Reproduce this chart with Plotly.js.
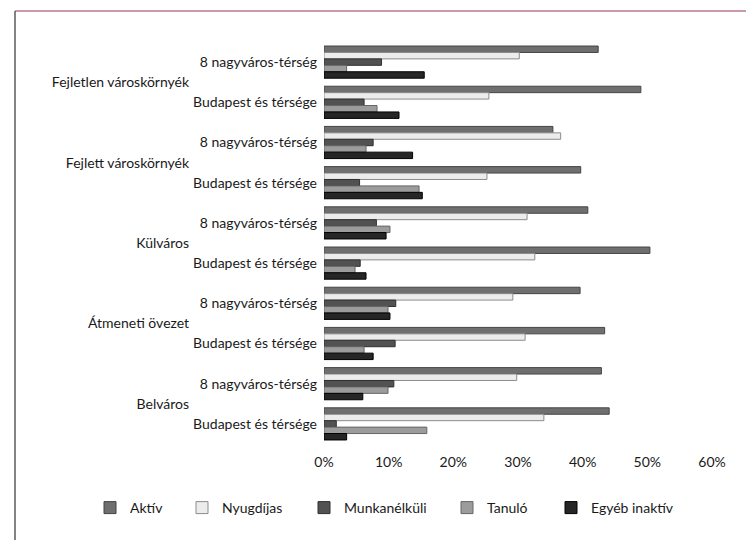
<!DOCTYPE html>
<html>
<head>
<meta charset="utf-8">
<script src="https://cdn.plot.ly/plotly-3.0.1.min.js"></script>
<style>html,body{margin:0;padding:0;background:#fff;}#chart{width:746px;height:540px;}</style>
</head>
<body>
<div id="chart"></div>
<script>
// Outer and inner category labels (top to bottom)
const outerCats = [
  'Fejletlen városkörnyék','Fejletlen városkörnyék',
  'Fejlett városkörnyék','Fejlett városkörnyék',
  'Külváros','Külváros',
  'Átmeneti övezet','Átmeneti övezet',
  'Belváros','Belváros'
];
const innerCats = [
  '8 nagyváros-térség','Budapest és térsége',
  '8 nagyváros-térség','Budapest és térsége',
  '8 nagyváros-térség','Budapest és térsége',
  '8 nagyváros-térség','Budapest és térsége',
  '8 nagyváros-térség','Budapest és térsége'
];
const seriesNames = ['Aktív','Nyugdíjas','Munkanélküli','Tanuló','Egyéb inaktív'];
const aktiv        = [42.4, 49.0, 35.4, 39.7, 40.8, 50.4, 39.6, 43.4, 42.9, 44.1];
const nyugdijas    = [30.2, 25.5, 36.6, 25.2, 31.4, 32.6, 29.2, 31.1, 29.8, 34.0];
const munkanelkuli = [ 8.9,  6.2,  7.6,  5.5,  8.1,  5.6, 11.1, 11.0, 10.8,  1.9];
const tanulo       = [ 3.5,  8.2,  6.5, 14.7, 10.2,  4.8,  9.9,  6.2,  9.9, 15.9];
const egyeb        = [15.5, 11.6, 13.7, 15.2,  9.6,  6.5, 10.2,  7.6,  6.0,  3.5];
const xTicks = [0, 10, 20, 30, 40, 50, 60];

const values = [aktiv, nyugdijas, munkanelkuli, tanulo, egyeb];
const fills = ['#6f6f6f', '#ececec', '#525252', '#9c9c9c', '#262626'];
const lines = ['#454545', '#8c8c8c', '#303030', '#666666', '#000000'];
const legendIds = ['legend', 'legend2', 'legend3', 'legend4', 'legend5'];
const legendLeft = [90, 182, 304, 447, 551]; // pixel left edge of each legend entry

const traces = values.map((v, i) => ({
  type: 'bar',
  orientation: 'h',
  name: seriesNames[i],
  legend: legendIds[i],
  x: v,
  y: [outerCats, innerCats],
  marker: {color: fills[i], line: {color: lines[i], width: 1}},
  hoverinfo: 'x+name'
}));

// plot area pixel geometry
const L = 324, R = 712, T = 42, B = 444;
const W = R - L, H = B - T;
const px = x => (x - L) / W;
const py = y => (B - y) / H;

const layout = {
  width: 746, height: 540,
  margin: {l: L, r: 746 - R, t: T, b: 540 - B, autoexpand: false},
  paper_bgcolor: '#ffffff',
  plot_bgcolor: '#ffffff',
  font: {family: 'Lato, "Open Sans", sans-serif', size: 14, color: '#1a1a1a'},
  barmode: 'group',
  bargap: 0.2,
  bargroupgap: 0,
  showlegend: true,
  xaxis: {
    range: [0, 60],
    tickvals: xTicks,
    ticktext: xTicks.map(t => t + '%'),
    showgrid: false,
    zeroline: false,
    showline: false,
    ticks: '',
    ticklabelstandoff: 8,
    tickfont: {size: 14}
  },
  yaxis: {
    type: 'multicategory',
    autorange: 'reversed',
    showdividers: false,
    showgrid: false,
    showline: false,
    ticks: '',
    ticklabelstandoff: 6,
    tickfont: {size: 14}
  },
  shapes: [
    {type: 'line', xref: 'paper', yref: 'paper', x0: px(15), x1: px(746), y0: py(11), y1: py(11),
     line: {color: '#b8788e', width: 1.5}},
    {type: 'line', xref: 'paper', yref: 'paper', x0: px(15), x1: px(15), y0: py(11), y1: py(540),
     line: {color: '#5a5a5a', width: 1.5}}
  ]
};
legendIds.forEach((id, i) => {
  layout[id] = {
    orientation: 'h',
    xref: 'paper', yref: 'paper',
    x: px(legendLeft[i]), xanchor: 'left',
    y: py(508), yanchor: 'middle',
    font: {size: 14, color: '#1a1a1a'},
    bgcolor: 'rgba(0,0,0,0)',
    itemwidth: 30
  };
});

Plotly.newPlot('chart', traces, layout, {displayModeBar: false, staticPlot: true});
</script>
</body>
</html>
